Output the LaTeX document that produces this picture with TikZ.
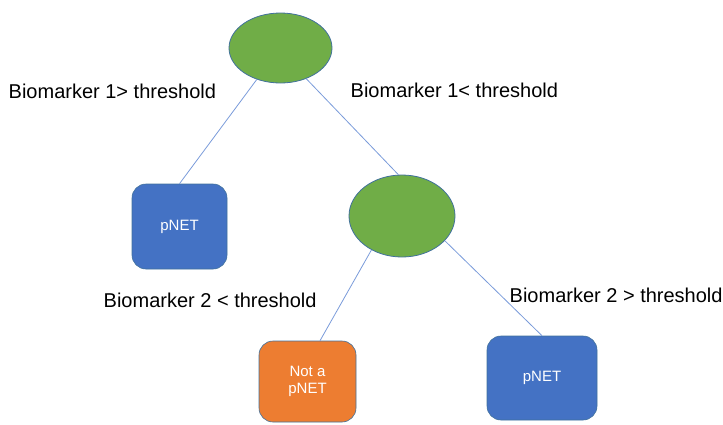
\documentclass[tikz,border=0pt]{standalone}
\usepackage{fontspec}
\setmainfont{Liberation Sans}
\usetikzlibrary{shapes.geometric,calc}
\definecolor{ogreen}{HTML}{70AD47}
\definecolor{oblue}{HTML}{4472C4}
\definecolor{oorange}{HTML}{ED7D31}
\definecolor{oline}{HTML}{41719C}
\definecolor{conn}{HTML}{7A9BDA}
\begin{document}
\begin{tikzpicture}[x=1pt,y=-1pt,
  decision/.style={ellipse,fill=ogreen,draw=oline,line width=0.8pt,inner sep=0pt},
  leaf/.style={rounded corners=14pt,draw=oline,line width=0.6pt,inner sep=0pt,
    text=white,font=\fontsize{15}{17}\selectfont,align=center},
  cond/.style={anchor=base west,inner sep=0pt,font=\fontsize{20}{23}\selectfont},
  edge/.style={draw=conn,line width=0.8pt}]
\useasboundingbox (0,0) rectangle (723,424);
\node[decision,minimum width=103pt,minimum height=70pt] (r) at (280.5,48) {};
\node[decision,minimum width=106pt,minimum height=82pt] (c) at (402,216) {};
\node[leaf,fill=oblue,minimum width=95pt,minimum height=85pt] (p1) at (179.5,226.5) {pNET};
\node[leaf,fill=oorange,minimum width=97pt,minimum height=81pt] (n) at (307.5,381.5) {Not a\\pNET};
\node[leaf,fill=oblue,minimum width=110pt,minimum height=84pt] (p2) at (542,378) {pNET};
\draw[edge] (r.233) -- (p1.north);
\draw[edge] (r.310) -- (c.95);
\draw[edge] (c.228) -- ($(n.north)+(12.5,0)$);
\draw[edge] (c.330) -- (p2.north);
\node[cond] (l1) at (8.5,98) {Biomarker 1> threshold};
\node[cond] (l2) at (350.5,97) {Biomarker 1< threshold};
\node[cond] (l3) at (103.5,307) {Biomarker 2 < threshold};
\node[cond] (l4) at (509.5,302) {Biomarker 2 > threshold};
\end{tikzpicture}
\end{document}
